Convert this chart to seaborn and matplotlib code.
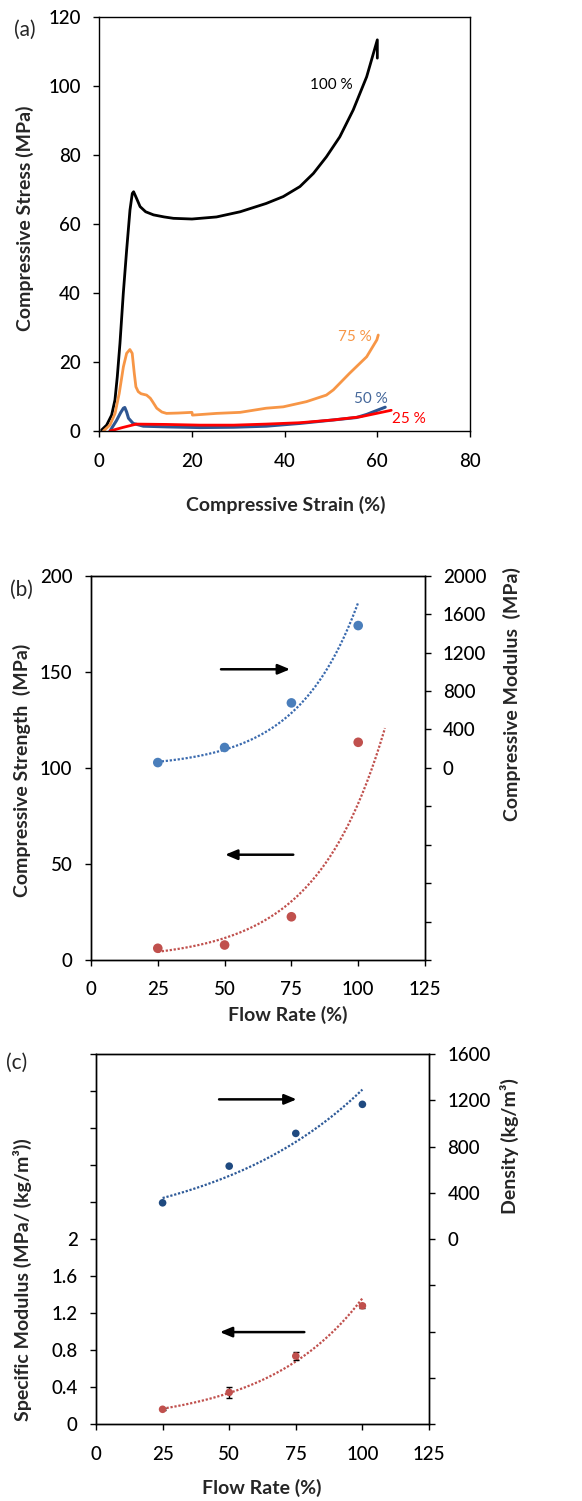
import numpy as np
import pandas as pd
import matplotlib
matplotlib.use("Agg")
import matplotlib.pyplot as plt
from matplotlib.ticker import MultipleLocator, FuncFormatter
import seaborn as sns

# ---------------- data ----------------
# (a) stress-strain curves
strain_100 = [0.5, 1.58, 2.66, 3.38, 3.88, 4.46, 5.18, 5.9, 6.62, 7.12, 7.4, 8.0, 8.8, 10.0, 11.7, 14.0,
              16.0, 20.0, 25.3, 30.4, 36.0, 39.7, 43.3, 46.2, 49.0, 51.9, 54.8, 57.7, 60.0, 60.0]
stress_100 = [0.3, 1.7, 4.6, 9.0, 15.7, 25.4, 39.9, 52.4, 64.0, 68.8, 69.3, 67.5, 65.0, 63.5, 62.6, 62.0,
              61.6, 61.4, 62.0, 63.5, 65.9, 67.9, 70.8, 74.6, 79.4, 85.2, 93.0, 102.6, 113.3, 108.0]
strain_75 = [0.9, 2.3, 3.4, 4.3, 5.2, 5.9, 6.6, 7.1, 7.55, 7.9, 8.4, 9.0, 10.2, 11.0, 11.5, 12.4, 13.5,
             14.5, 17.0, 20.0, 20.1, 25.3, 30.4, 36.0, 39.7, 44.7, 49.0, 50.5, 54.0, 57.7, 59.9, 60.2]
stress_75 = [0.0, 1.7, 5.1, 10.9, 18.6, 22.5, 23.6, 22.5, 16.7, 12.8, 11.4, 10.8, 10.4, 9.5, 8.5, 6.6, 5.5,
             5.1, 5.2, 5.4, 4.6, 5.1, 5.4, 6.6, 7.0, 8.5, 10.4, 11.9, 16.7, 21.5, 26.4, 27.8]
strain_50 = [2.3, 3.7, 4.6, 5.2, 5.5, 5.9, 6.3, 7.3, 9.5, 14.5, 21.7, 29.0, 36.0, 43.3, 50.5, 55.5, 57.7, 61.7]
stress_50 = [0.0, 3.0, 5.3, 6.6, 6.8, 5.5, 3.7, 2.2, 1.4, 1.2, 1.0, 1.1, 1.4, 2.2, 3.2, 3.9, 4.8, 6.9]
strain_25 = [2.3, 5.0, 8.0, 14.5, 21.7, 29.0, 36.0, 43.3, 50.5, 56.3, 63.0]
stress_25 = [0.0, 1.0, 2.0, 1.9, 1.7, 1.7, 2.0, 2.4, 3.2, 4.1, 6.0]

# (b) & (c) flow-rate series
flow_rate = [25, 50, 75, 100]
comp_strength = [6.1, 7.8, 22.5, 113.3]         # MPa (left, b)
comp_modulus = [55, 212, 676, 1481]             # MPa (right, b)
spec_modulus = [0.162, 0.345, 0.737, 1.28]      # MPa/(kg/m3) (left, c)
spec_modulus_err = [0.01, 0.063, 0.043, 0.02]
density = [314, 631, 914, 1165]                 # kg/m3 (right, c)

# ---------------- style ----------------
sns.set_theme(style="ticks")
plt.rcParams['font.family'] = ['Lato', 'DejaVu Sans']
plt.rcParams['axes.edgecolor'] = 'black'
plt.rcParams['axes.linewidth'] = 1.0
plt.rcParams['xtick.color'] = 'black'
plt.rcParams['ytick.color'] = 'black'

TICK_FS = 13.5
LABEL_FS = 14.0
TICK_W = 'medium'

C_BLACK = '#000000'
C_ORANGE = '#F79646'
C_BLUE_A = '#2E5692'
C_RED_A = '#FF0000'
C_BLUE_B = '#4A7EBB'
C_RED = '#C0504D'
C_BLUE_C = '#1F4A80'

W, H = 582, 1501
fig = plt.figure(figsize=(W / 100, H / 100), dpi=100)


def add_axes(left, right, top, bottom):
    return fig.add_axes([left / W, 1 - bottom / H, (right - left) / W, (bottom - top) / H])


def style_ticks(ax, xpad=11.5, ypad=9.0):
    ax.tick_params(axis='x', direction='out', length=4.3, width=1.0, pad=xpad, labelsize=TICK_FS)
    ax.tick_params(axis='y', direction='out', length=4.3, width=1.0, pad=ypad, labelsize=TICK_FS)
    for lab in ax.get_xticklabels() + ax.get_yticklabels():
        lab.set_fontweight(TICK_W)


def exp_fit(x, y, xs):
    b, a = np.polyfit(np.asarray(x, float), np.log(np.asarray(y, float)), 1)
    return np.exp(a + b * xs)


dotted = (0, (1, 0.8))

# ---------------- (a) ----------------
axa = add_axes(99.3, 470, 16.7, 431)
curves = [
    (strain_100, stress_100, C_BLACK, 2.0),
    (strain_75, stress_75, C_ORANGE, 2.0),
    (strain_50, stress_50, C_BLUE_A, 2.2),
    (strain_25, stress_25, C_RED_A, 2.0),
]
for sx, sy, col, lw in curves:
    df = pd.DataFrame({'strain': sx, 'stress': sy})
    sns.lineplot(data=df, x='strain', y='stress', ax=axa, color=col, lw=lw,
                 sort=False, estimator=None)
axa.set_xlim(0, 80)
axa.set_ylim(0, 120)
axa.xaxis.set_major_locator(MultipleLocator(20))
axa.yaxis.set_major_locator(MultipleLocator(20))
axa.set_xlabel('Compressive Strain (%)', fontsize=LABEL_FS, fontweight='bold')
axa.set_ylabel('Compressive Stress (MPa)', fontsize=LABEL_FS, fontweight='bold')
axa.xaxis.set_label_coords(0.504, -0.179)
axa.yaxis.set_label_coords(-0.200, 0.514)
axa.xaxis.label.set_va('center')
axa.yaxis.label.set_va('center')
axa.text(50.1, 100.2, '100 %', color=C_BLACK, fontsize=11, ha='center', va='center')
axa.text(55.2, 27.3, '75 %', color=C_ORANGE, fontsize=11, ha='center', va='center')
axa.text(58.6, 9.3, '50 %', color='#44679A', fontsize=11, ha='center', va='center')
axa.text(66.9, 3.4, '25 %', color=C_RED_A, fontsize=11, ha='center', va='center')
fig.text(25 / W, 1 - 30 / H, '(a)', fontsize=15, ha='center', va='center')

# ---------------- (b) ----------------
axb = add_axes(91, 425, 575.7, 960)
axb2 = axb.twinx()
dfb = pd.DataFrame({'flow': flow_rate, 'strength': comp_strength, 'modulus': comp_modulus})

xs_r = np.linspace(25, 110, 200)
sns.lineplot(x=xs_r, y=exp_fit(flow_rate, comp_strength, xs_r), ax=axb, color=C_RED, lw=1.6,
             linestyle=dotted, estimator=None)
sns.scatterplot(data=dfb, x='flow', y='strength', ax=axb, color=C_RED, s=48, edgecolor='none', zorder=3)
xs_b = np.linspace(25, 100, 200)
sns.lineplot(x=xs_b, y=exp_fit(flow_rate, comp_modulus, xs_b), ax=axb2, color='#3A6AAE', lw=1.6,
             linestyle=dotted, estimator=None)
sns.scatterplot(data=dfb, x='flow', y='modulus', ax=axb2, color=C_BLUE_B, s=48, edgecolor='none', zorder=3)

axb.set_xlim(0, 125)
axb.set_ylim(0, 200)
axb2.set_ylim(-2000, 2000)
axb.xaxis.set_major_locator(MultipleLocator(25))
axb.yaxis.set_major_locator(MultipleLocator(50))
axb2.yaxis.set_major_locator(MultipleLocator(400))
axb2.yaxis.set_major_formatter(FuncFormatter(lambda v, p: '' if v < -1e-6 else f'{v:.0f}'))
axb.set_xlabel('Flow Rate (%)', fontsize=LABEL_FS, fontweight='bold')
axb.set_ylabel('Compressive Strength  (MPa)', fontsize=LABEL_FS, fontweight='bold')
axb2.set_ylabel('Compressive Modulus  (MPa)', fontsize=LABEL_FS, fontweight='bold')
axb.xaxis.set_label_coords(0.588, -0.143)
axb.yaxis.set_label_coords(-0.2066, 0.494)
axb2.yaxis.set_label_coords(1.260, 0.692)
for lab in (axb.xaxis.label, axb.yaxis.label, axb2.yaxis.label):
    lab.set_va('center')
arrow_kw = dict(arrowstyle='-|>,head_length=0.6,head_width=0.25', color='black', lw=1.8,
                shrinkA=0, shrinkB=0)
axb.annotate('', xy=(74.5, 151.3), xytext=(48.65, 151.3), arrowprops=arrow_kw)
axb.annotate('', xy=(50.2, 54.8), xytext=(75.7, 54.8), arrowprops=arrow_kw)
fig.text(21 / W, 1 - 590 / H, '(b)', fontsize=15, ha='center', va='center')

# ---------------- (c) ----------------
axc = add_axes(96, 429, 1054, 1424.3)
axc2 = axc.twinx()
dfc = pd.DataFrame({'flow': flow_rate, 'spec': spec_modulus, 'err': spec_modulus_err, 'dens': density})

sns.lineplot(x=xs_b, y=exp_fit(flow_rate, spec_modulus, xs_b), ax=axc, color=C_RED, lw=1.6,
             linestyle=dotted, estimator=None)
axc.errorbar(dfc['flow'], dfc['spec'], yerr=dfc['err'], fmt='none', ecolor='black', elinewidth=1.0,
             capsize=2.2, capthick=1.0, zorder=2)
sns.scatterplot(data=dfc, x='flow', y='spec', ax=axc, color=C_RED, s=30, edgecolor='none', zorder=3)
sns.lineplot(x=xs_b, y=exp_fit(flow_rate, density, xs_b), ax=axc2, color='#2E5A98', lw=1.6,
             linestyle=dotted, estimator=None)
sns.scatterplot(data=dfc, x='flow', y='dens', ax=axc2, color=C_BLUE_C, s=30, edgecolor='none', zorder=3)

axc.set_xlim(0, 125)
axc.set_ylim(0, 4)
axc2.set_ylim(-1600, 1600)
axc.xaxis.set_major_locator(MultipleLocator(25))
axc.yaxis.set_major_locator(MultipleLocator(0.4))
axc.yaxis.set_major_formatter(FuncFormatter(lambda v, p: '' if v > 2.0 + 1e-6 else f'{v:g}'))
axc2.yaxis.set_major_locator(MultipleLocator(400))
axc2.yaxis.set_major_formatter(FuncFormatter(lambda v, p: '' if v < -1e-6 else f'{v:.0f}'))
axc.set_xlabel('Flow Rate (%)', fontsize=LABEL_FS, fontweight='bold')
axc.set_ylabel('Specific Modulus (MPa/ (kg/m\u00b3))', fontsize=LABEL_FS, fontweight='bold')
axc2.set_ylabel('Density (kg/m\u00b3)', fontsize=LABEL_FS, fontweight='bold')
axc.xaxis.set_label_coords(0.4985, -0.172)
axc.yaxis.set_label_coords(-0.222, 0.392)
axc2.yaxis.set_label_coords(1.243, 0.7516)
for lab in (axc.xaxis.label, axc.yaxis.label, axc2.yaxis.label):
    lab.set_va('center')
axc.annotate('', xy=(75.3, 3.51), xytext=(46.2, 3.51), arrowprops=arrow_kw)
axc.annotate('', xy=(46.5, 0.996), xytext=(78.2, 0.996), arrowprops=arrow_kw)
fig.text(17 / W, 1 - 1063 / H, '(c)', fontsize=15, ha='center', va='center')

for ax in (axa, axb, axb2, axc, axc2):
    for sp in ax.spines.values():
        sp.set_visible(True)
        sp.set_color('black')

fig.canvas.draw()
style_ticks(axa)
style_ticks(axb, xpad=10.8)
style_ticks(axb2, xpad=10.8, ypad=8.4)
style_ticks(axc)
style_ticks(axc2)

fig.savefig('out.png', dpi=100)
